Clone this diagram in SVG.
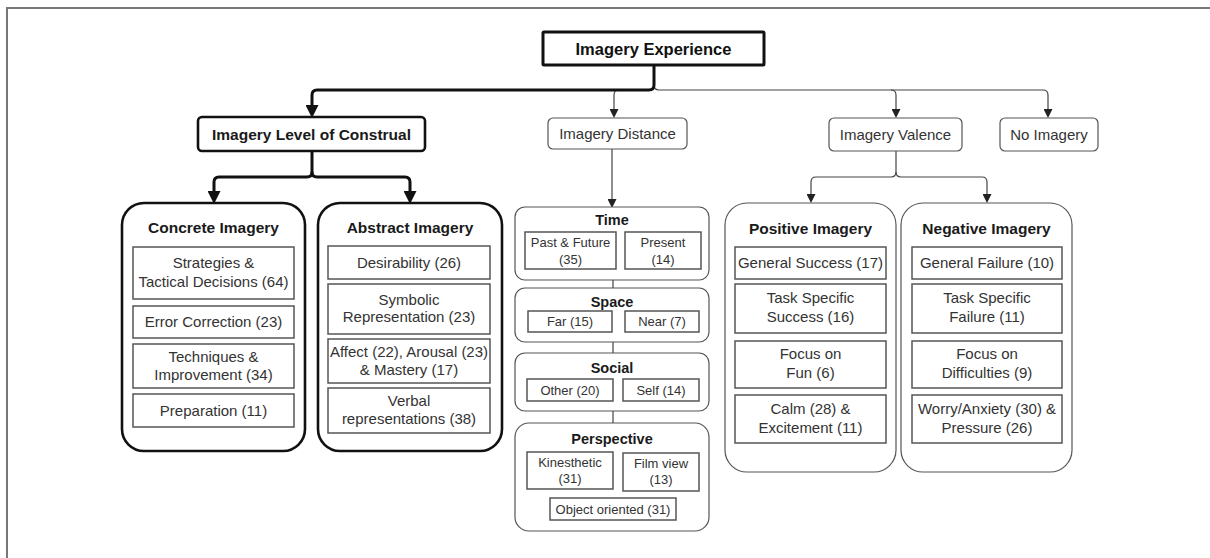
<svg xmlns="http://www.w3.org/2000/svg" width="1210" height="558" viewBox="0 0 1210 558">
<style>
text{font-family:"Liberation Sans",Arial,sans-serif;text-anchor:middle}
.t{font-size:15px;fill:#333}
.s{font-size:13px;fill:#333}
.hb{font-size:15.5px;font-weight:bold;fill:#1a1a1a}
.hs{font-size:14.5px;font-weight:bold;fill:#1a1a1a}
.thin{fill:#fff;stroke:#555;stroke-width:1.2}
.thick{fill:#fff;stroke:#111;stroke-width:2.6}
.inner{fill:#fff;stroke:#555;stroke-width:1.5}
.cthick{fill:none;stroke:#111;stroke-width:3}
.cthin{fill:none;stroke:#444;stroke-width:1.2}
</style>
<defs>
<marker id="ab" markerUnits="userSpaceOnUse" markerWidth="13" markerHeight="13" refX="6" refY="6.5" orient="auto"><path d="M0,0 L13,6.5 L0,13 Z" fill="#111"/></marker>
<marker id="as" markerUnits="userSpaceOnUse" markerWidth="9" markerHeight="9" refX="4" refY="4.5" orient="auto"><path d="M0,0 L9,4.5 L0,9 Z" fill="#222"/></marker>
</defs>
<rect width="1210" height="558" fill="#fff"/>
<path d="M7,558 V8 H1210" fill="none" stroke="#777" stroke-width="2"/>

<g id="connectors">
<path class="cthin" d="M654,80 V85 Q654,90 659,90 H1043 Q1048,90 1048,95 V113" marker-end="url(#as)"/>
<path class="cthin" d="M891,90 Q896,90 896,95 V113" marker-end="url(#as)"/>
<path class="cthin" d="M619,90 Q614,90 614,95 V113" marker-end="url(#as)"/>
<path class="cthick" d="M654,66 V85 Q654,90 649,90 H317 Q312,90 312,95 V111" marker-end="url(#ab)"/>
<path class="cthick" d="M312,151 V172 Q312,177 307,177 H219 Q214,177 214,182 V197" marker-end="url(#ab)"/>
<path class="cthick" d="M312,172 Q312,177 317,177 H405 Q410,177 410,182 V197" marker-end="url(#ab)"/>
<path class="cthin" d="M896,151 V172 Q896,177 891,177 H816 Q811,177 811,182 V198" marker-end="url(#as)"/>
<path class="cthin" d="M896,172 Q896,177 901,177 H982 Q987,177 987,182 V198" marker-end="url(#as)"/>
<path class="cthin" d="M612,149 V203" marker-end="url(#as)"/>
<path class="cthin" d="M613,280 V288 M613,342 V353 M613,411 V423"/>
</g>

<g id="imagery-experience">
<rect x="543" y="32" width="221" height="33" fill="#fff" stroke="#111" stroke-width="3" rx="1"/>
<text x="653.5" y="54.5" style="font-size:16.5px;font-weight:bold;fill:#111">Imagery Experience</text>
</g>

<g id="imagery-level-of-construal">
<rect class="thick" x="198" y="117" width="227" height="34" rx="4"/>
<text class="hb" x="311.5" y="139.5">Imagery Level of Construal</text>
</g>

<g id="imagery-distance">
<rect class="thin" x="548" y="118" width="139" height="31" rx="5"/>
<text class="t" x="617.5" y="139">Imagery Distance</text>
</g>

<g id="imagery-valence">
<rect class="thin" x="829" y="118" width="133" height="33" rx="5"/>
<text class="t" x="895.5" y="139.5">Imagery Valence</text>
</g>

<g id="no-imagery">
<rect class="thin" x="1000" y="118" width="98" height="33" rx="5"/>
<text class="t" x="1049" y="139.5">No Imagery</text>
</g>

<g id="concrete-imagery">
<rect class="thick" x="122" y="203" width="183" height="248" rx="22"/>
<text class="hb" x="213.5" y="233">Concrete Imagery</text>
<rect class="inner" x="133" y="247" width="161" height="52"/>
<text class="t" x="213.5" y="268.3">Strategies &amp;</text>
<text class="t" x="213.5" y="287.3">Tactical Decisions (64)</text>
<rect class="inner" x="133" y="306" width="161" height="32"/>
<text class="t" x="213.5" y="327.3">Error Correction (23)</text>
<rect class="inner" x="133" y="344" width="161" height="44"/>
<text class="t" x="213.5" y="362.3">Techniques &amp;</text>
<text class="t" x="213.5" y="380.3">Improvement (34)</text>
<rect class="inner" x="133" y="394" width="161" height="33"/>
<text class="t" x="213.5" y="416">Preparation (11)</text>
</g>

<g id="abstract-imagery">
<rect class="thick" x="318" y="203" width="184" height="248" rx="22"/>
<text class="hb" x="410" y="233">Abstract Imagery</text>
<rect class="inner" x="328" y="246" width="162" height="33"/>
<text class="t" x="409" y="268">Desirability (26)</text>
<rect class="inner" x="328" y="284" width="162" height="50"/>
<text class="t" x="409" y="305.3">Symbolic</text>
<text class="t" x="409" y="322.3">Representation (23)</text>
<rect class="inner" x="328" y="339" width="162" height="44"/>
<text class="t" x="409" y="357.3">Affect (22), Arousal (23)</text>
<text class="t" x="409" y="375.3">&amp; Mastery (17)</text>
<rect class="inner" x="328" y="388" width="162" height="45"/>
<text class="t" x="409" y="406.3">Verbal</text>
<text class="t" x="409" y="424.3">representations (38)</text>
</g>

<g id="time">
<rect class="thin" x="515" y="207" width="194" height="73" rx="10"/>
<text class="hs" x="612" y="225">Time</text>
<rect class="inner" x="525" y="232" width="91" height="37"/>
<text class="s" x="570.5" y="246.5">Past &amp; Future</text>
<text class="s" x="570.5" y="263.5">(35)</text>
<rect class="inner" x="625" y="232" width="76" height="37"/>
<text class="s" x="663" y="246.5">Present</text>
<text class="s" x="663" y="263.5">(14)</text>
</g>

<g id="space">
<rect class="thin" x="515" y="288" width="194" height="54" rx="10"/>
<text class="hs" x="612" y="307">Space</text>
<rect class="inner" x="528" y="311" width="84" height="21"/>
<text class="s" x="570" y="326">Far (15)</text>
<rect class="inner" x="625" y="311" width="74" height="21"/>
<text class="s" x="662" y="326">Near (7)</text>
</g>

<g id="social">
<rect class="thin" x="515" y="353" width="194" height="58" rx="10"/>
<text class="hs" x="612" y="373">Social</text>
<rect class="inner" x="527" y="379" width="86" height="22"/>
<text class="s" x="570" y="394.5">Other (20)</text>
<rect class="inner" x="623" y="379" width="76" height="22"/>
<text class="s" x="661" y="394.5">Self (14)</text>
</g>

<g id="perspective">
<rect class="thin" x="515" y="423" width="194" height="108" rx="14"/>
<text class="hs" x="612" y="443.5">Perspective</text>
<rect class="inner" x="527" y="452" width="86" height="37"/>
<text class="s" x="570" y="466.5">Kinesthetic</text>
<text class="s" x="570" y="482.5">(31)</text>
<rect class="inner" x="623" y="453" width="76" height="38"/>
<text class="s" x="661" y="467.5">Film view</text>
<text class="s" x="661" y="483.5">(13)</text>
<rect class="inner" x="550" y="498" width="126" height="22"/>
<text class="s" x="613" y="513.5">Object oriented (31)</text>
</g>

<g id="positive-imagery">
<rect class="thin" x="725" y="203" width="171" height="269" rx="22"/>
<text class="hb" x="810.5" y="233.5">Positive Imagery</text>
<rect class="inner" x="735" y="247" width="151" height="32"/>
<text class="t" x="810.5" y="268.3">General Success (17)</text>
<rect class="inner" x="735" y="284" width="151" height="49"/>
<text class="t" x="810.5" y="303.3">Task Specific</text>
<text class="t" x="810.5" y="322.3">Success (16)</text>
<rect class="inner" x="735" y="341" width="151" height="47"/>
<text class="t" x="810.5" y="359.3">Focus on</text>
<text class="t" x="810.5" y="378.3">Fun (6)</text>
<rect class="inner" x="735" y="395" width="151" height="48"/>
<text class="t" x="810.5" y="414.3">Calm (28) &amp;</text>
<text class="t" x="810.5" y="433.3">Excitement (11)</text>
</g>

<g id="negative-imagery">
<rect class="thin" x="901" y="203" width="171" height="269" rx="22"/>
<text class="hb" x="986.5" y="233.5">Negative Imagery</text>
<rect class="inner" x="912" y="247" width="150" height="32"/>
<text class="t" x="987" y="268.3">General Failure (10)</text>
<rect class="inner" x="912" y="284" width="150" height="49"/>
<text class="t" x="987" y="303.3">Task Specific</text>
<text class="t" x="987" y="322.3">Failure (11)</text>
<rect class="inner" x="912" y="341" width="150" height="47"/>
<text class="t" x="987" y="359.3">Focus on</text>
<text class="t" x="987" y="378.3">Difficulties (9)</text>
<rect class="inner" x="912" y="395" width="150" height="48"/>
<text class="t" x="987" y="414.3">Worry/Anxiety (30) &amp;</text>
<text class="t" x="987" y="433.3">Pressure (26)</text>
</g>
</svg>
